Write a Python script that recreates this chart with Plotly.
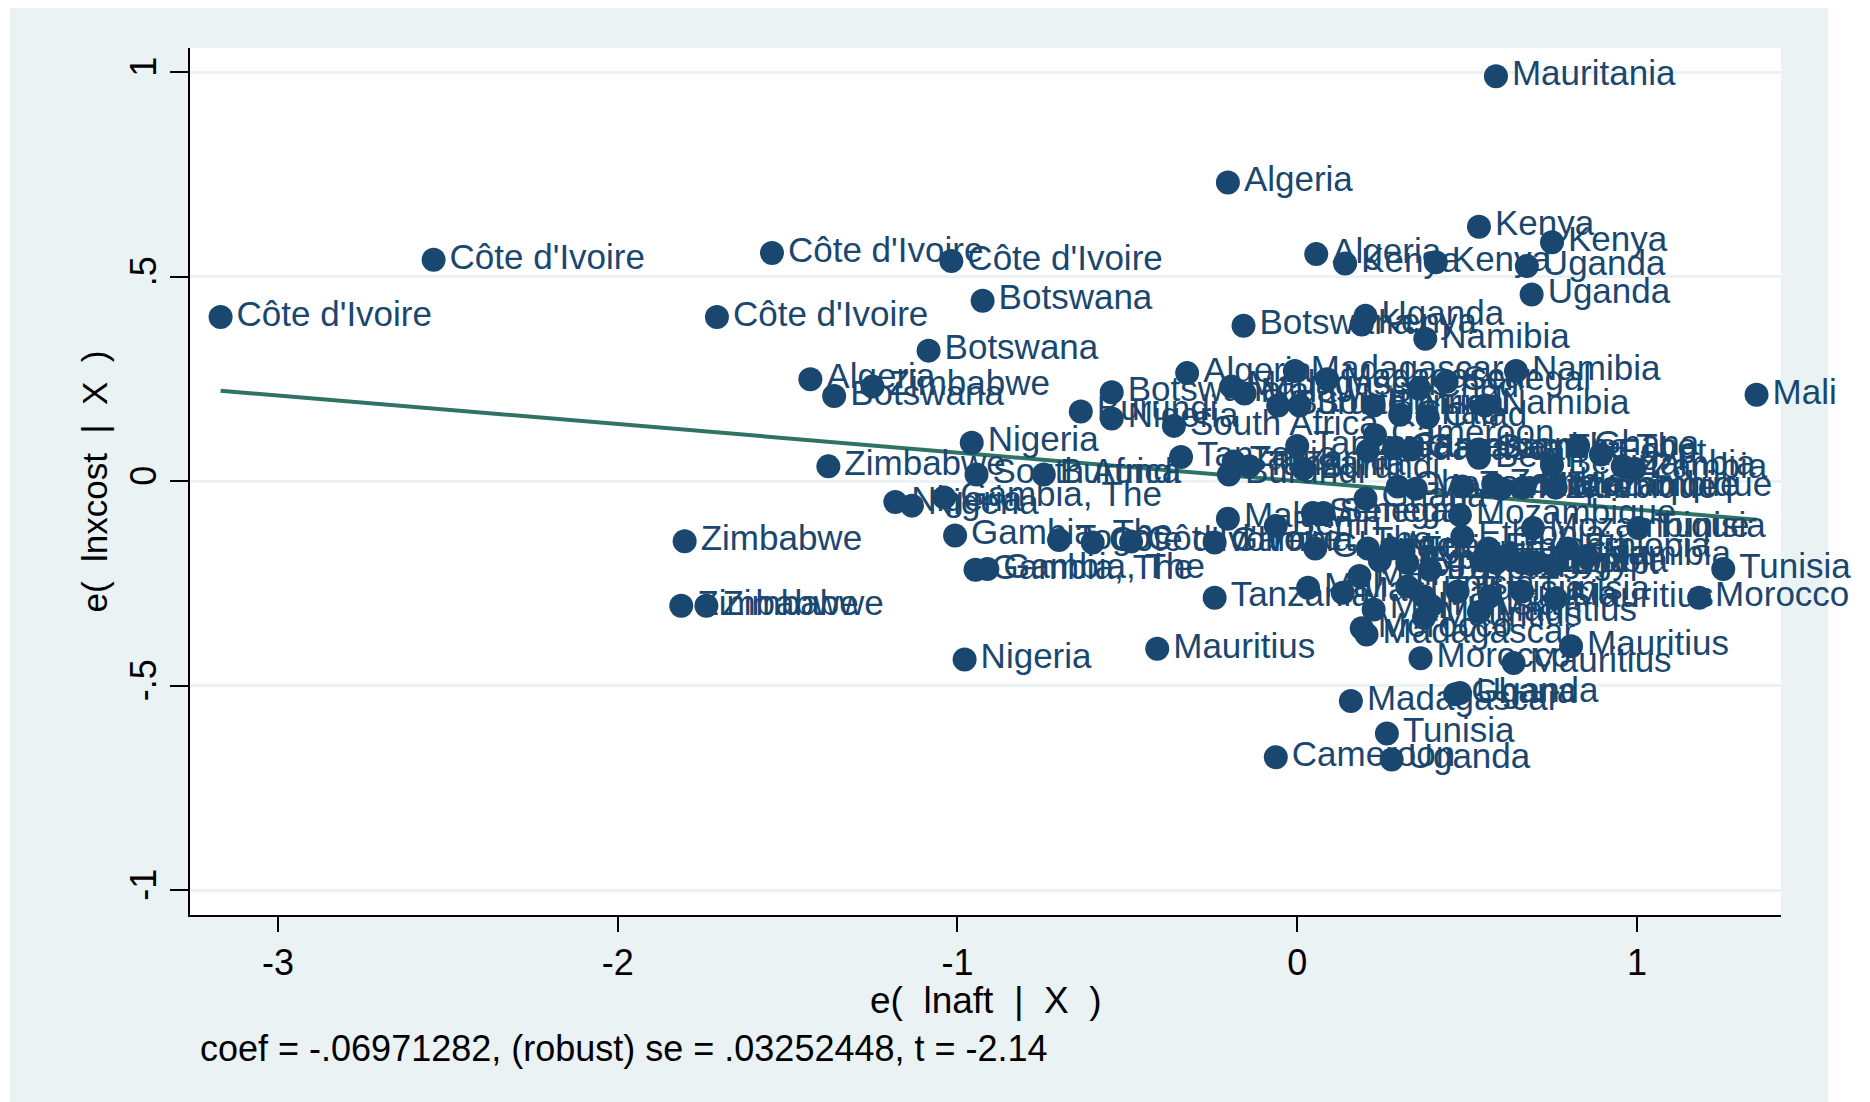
import plotly.graph_objects as go

# Added-variable plot: e( lnxcost | X ) vs e( lnaft | X )
countries = [
    "Mauritania", "Algeria", "Kenya", "Kenya", "Côte d'Ivoire", "Côte d'Ivoire", "Côte d'Ivoire",
    "Algeria", "Kenya", "Kenya", "Uganda", "Uganda", "Botswana", "Côte d'Ivoire", "Côte d'Ivoire",
    "Uganda", "Kenya", "Botswana", "Namibia", "Botswana", "Algeria", "Zimbabwe", "Botswana",
    "Algeria", "Madagascar", "Namibia", "Madagascar", "Malawi", "Madagascar", "Chad", "Senegal",
    "Botswana", "Burundi", "Nigeria", "South Africa", "Burundi", "South Africa", "Burundi", "Chad",
    "Chad", "Namibia", "Mali", "Nigeria", "Zimbabwe", "South Africa", "Burundi", "Tanzania",
    "Tanzania", "Tanzania", "Burundi", "Tanzania", "Burundi", "Cameroon", "Madagascar", "Cameroon",
    "Gambia, The", "Gambia, The", "Benin", "Ghana", "Benin", "Egypt", "Zambia", "Zambia",
    "Nigeria", "Nigeria", "Gambia, The", "Ghana", "Ghana", "Mozambique", "Zambia", "Zambia",
    "Mozambique", "Mozambique", "Mozambique", "Zimbabwe", "Gambia, The", "Togo", "Côte d'Ivoire",
    "Côte d'Ivoire", "Gambia, The", "Malawi", "Benin", "Senegal", "Senegal", "Ghana", "Niger",
    "Niger", "Ethiopia", "Mozambique", "Ethiopia", "Mozambique", "Ethiopia", "Ethiopia", "Ethiopia",
    "Tunisia", "Namibia", "Tunisia", "Gambia, The", "Gambia, The", "Egypt", "Egypt", "Egypt",
    "Egypt", "Zambia", "Egypt", "Zambia", "Egypt", "Zimbabwe", "Zimbabwe", "Tanzania", "Mali",
    "Mali", "Mali", "Tunisia", "Mali", "Tunisia", "Tunisia", "Tunisia", "Tunisia", "Mauritius",
    "Morocco", "Mali", "Mauritius", "Mauritius", "Morocco", "Madagascar", "Mauritius", "Nigeria",
    "Morocco", "Mauritius", "Mauritius", "Madagascar", "Ghana", "Tunisia", "Cameroon", "Uganda",
    "Uganda",
]

e_lnaft = [
    0.585, -0.204, 0.535, 0.750, -2.542, -1.546, -1.018,
    0.056, 0.141, 0.408, 0.676, 0.690, -0.926, -3.169, -1.708,
    0.201, 0.190, -0.158, 0.377, -1.085, -1.433, -1.250, -1.363,
    -0.324, -0.007, 0.644, -0.194, -0.155, 0.088, 0.359, 0.440,
    -0.546, -0.637, -0.546, -0.363, -0.056, 0.007, 0.225, 0.303,
    0.384, 0.553, 1.352, -0.958, -1.380, -0.944, -0.746, -0.342,
    -0.187, -0.141, -0.201, 0.000, 0.018, 0.229, 0.208, 0.285,
    0.335, 0.535, 0.535, 0.827, 0.750, 0.894, 0.958, 0.993,
    -1.183, -1.134, -1.039, 0.201, 0.296, 0.349, 0.486, 0.577,
    0.599, 0.665, 0.761, -1.803, -1.007, -0.701, -0.602,
    -0.489, -0.243, -0.204, -0.063, 0.046, 0.077, 0.053, 0.208,
    0.278, 0.313, 0.479, 0.486, 0.694, 0.563, 0.620, 0.796,
    1.004, 0.852, 1.254, -0.947, -0.912, 0.243, 0.324, 0.391,
    0.542, 0.585, 0.662, 0.701, 0.754, -1.813, -1.739, -0.243, 0.032,
    0.134, 0.183, 0.324, 0.373, 0.394, 0.472, 0.567, 0.662, 0.761,
    1.183, 0.225, 0.535, 0.373, 0.190, 0.204, -0.412, -0.979,
    0.363, 0.637, 0.806, 0.158, 0.465, 0.264, -0.063, 0.278,
    0.479,
]

e_lnxcost = [
    0.990, 0.730, 0.622, 0.584, 0.541, 0.558, 0.538,
    0.555, 0.532, 0.535, 0.526, 0.456, 0.441, 0.401, 0.401,
    0.404, 0.383, 0.380, 0.348, 0.319, 0.249, 0.231, 0.208,
    0.264, 0.269, 0.269, 0.231, 0.214, 0.249, 0.226, 0.243,
    0.217, 0.170, 0.153, 0.135, 0.185, 0.185, 0.185, 0.162,
    0.156, 0.185, 0.211, 0.094, 0.036, 0.016, 0.016, 0.059,
    0.048, 0.036, 0.016, 0.086, 0.030, 0.112, 0.074, 0.080,
    0.077, 0.077, 0.057, 0.086, 0.039, 0.065, 0.036, 0.030,
    -0.051, -0.060, -0.040, -0.043, -0.013, -0.019, -0.013, -0.008,
    -0.019, -0.016, -0.016, -0.147, -0.133, -0.144, -0.150,
    -0.148, -0.150, -0.092, -0.110, -0.078, -0.078, -0.165, -0.165,
    -0.165, -0.171, -0.083, -0.136, -0.115, -0.165, -0.183, -0.165,
    -0.115, -0.183, -0.215, -0.217, -0.215, -0.194, -0.200, -0.217,
    -0.194, -0.200, -0.200, -0.200, -0.206, -0.305, -0.305, -0.285, -0.261,
    -0.273, -0.232, -0.258, -0.282, -0.305, -0.270, -0.282, -0.270, -0.287,
    -0.285, -0.314, -0.320, -0.334, -0.360, -0.375, -0.410, -0.436,
    -0.433, -0.445, -0.404, -0.538, -0.521, -0.617, -0.675, -0.681,
    -0.518,
]

coef = -0.06971282
se = 0.03252448
t_stat = -2.14

x_ticks = [-3, -2, -1, 0, 1]
x_tick_labels = ["-3", "-2", "-1", "0", "1"]
y_ticks = [-1, -0.5, 0, 0.5, 1]
y_tick_labels = ["-1", "-.5", "0", ".5", "1"]

NAVY = "#1a476f"
GREEN = "#2e7364"
LIGHT = "#eaf2f3"
FONT = "Liberation Sans, Arial, sans-serif"

fig = go.Figure()

x_line = [min(e_lnaft), max(e_lnaft)]
y_line = [coef * v for v in x_line]
fig.add_trace(go.Scatter(
    x=x_line, y=y_line, mode="lines",
    line=dict(color=GREEN, width=4), hoverinfo="skip", showlegend=False,
))

fig.add_trace(go.Scatter(
    x=e_lnaft, y=e_lnxcost, mode="markers+text",
    text=countries, textposition="middle right", cliponaxis=False,
    textfont=dict(family=FONT, size=35, color=NAVY),
    marker=dict(color=NAVY, size=24, line=dict(width=0)),
    showlegend=False,
))

# the page body adds an 8px margin, so the figure is 8px smaller
W, H = 1862, 1094
L, R, T, B = 182, 89, 40, 187
pw, ph = W - L - R, H - T - B

def px_to_paper_x(p):
    return (p - L) / pw

def px_to_paper_y(p):
    return (H - B - p) / ph

shapes = [
    # white outer strips (left, right)
    dict(type="rect", xref="paper", yref="paper", layer="below",
         x0=px_to_paper_x(0), x1=px_to_paper_x(2), y0=px_to_paper_y(H), y1=px_to_paper_y(0),
         fillcolor="white", line=dict(width=0)),
    dict(type="rect", xref="paper", yref="paper", layer="below",
         x0=px_to_paper_x(1820), x1=px_to_paper_x(W), y0=px_to_paper_y(H), y1=px_to_paper_y(0),
         fillcolor="white", line=dict(width=0)),
]

annotations = [
    dict(text="e(  lnaft  |  X  )", xref="paper", yref="paper",
         x=0.5, y=px_to_paper_y(992), xanchor="center", yanchor="middle",
         showarrow=False, font=dict(family=FONT, size=37, color="black")),
    dict(text="e(  lnxcost  |  X  )", xref="paper", yref="paper", textangle=-90,
         x=px_to_paper_x(86), y=0.5, xanchor="center", yanchor="middle",
         showarrow=False, font=dict(family=FONT, size=35, color="black")),
    dict(text=f"coef = {coef:.8f}".replace("-0.", "-.") + f", (robust) se = {se:.8f}".replace("0.", ".") + f", t = {t_stat:.2f}",
         xref="paper", yref="paper", x=px_to_paper_x(190), y=px_to_paper_y(1040),
         xanchor="left", yanchor="middle", showarrow=False,
         font=dict(family=FONT, size=36, color="black")),
]

fig.update_layout(
    width=W, height=H,
    margin=dict(l=L, r=R, t=T, b=B, pad=0),
    paper_bgcolor=LIGHT, plot_bgcolor="white",
    shapes=shapes, annotations=annotations,
    font=dict(family=FONT, color="black"),
    xaxis=dict(
        range=[-3.259, 1.424], tickvals=x_ticks, ticktext=x_tick_labels,
        showgrid=False, zeroline=False, showline=True, linecolor="black", linewidth=2,
        ticks="outside", ticklen=15, tickwidth=1.5, tickcolor="black",
        tickfont=dict(family=FONT, size=36, color="black"),
    ),
    yaxis=dict(
        range=[-1.061, 1.059], tickvals=y_ticks, ticktext=y_tick_labels, tickangle=-90,
        showgrid=True, gridcolor=LIGHT, gridwidth=3, zeroline=False,
        showline=True, linecolor="black", linewidth=2,
        ticks="outside", ticklen=18, tickwidth=1.5, tickcolor="black",
        tickfont=dict(family=FONT, size=36, color="black"),
    ),
)

fig.write_html("out.html")
